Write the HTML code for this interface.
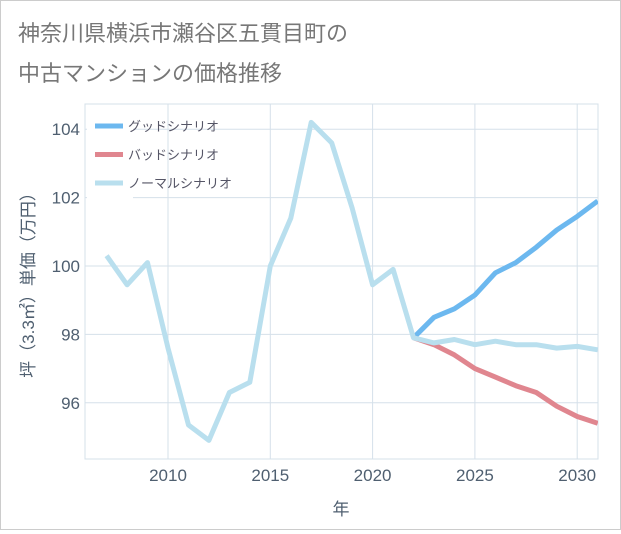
<!DOCTYPE html>
<html><head><meta charset="utf-8"><style>
body{margin:0;background:#fff;font-family:"Liberation Sans","Noto Sans CJK JP",sans-serif;}
#wrap{position:relative;width:619px;height:528px;border:1px solid #ccc;background:#fff;}
</style></head><body>
<div id="wrap">
<svg id="chart" width="619" height="528" xmlns="http://www.w3.org/2000/svg">
<text x="17" y="40" font-size="22" fill="#777" font-family="Liberation Sans,Noto Sans CJK JP,sans-serif">神奈川県横浜市瀬谷区五貫目町の</text>
<text x="17" y="80" font-size="22" fill="#777" font-family="Liberation Sans,Noto Sans CJK JP,sans-serif">中古マンションの価格推移</text>
<g id="grid"></g><g id="series"></g><g id="axes"></g><g id="legend"></g>
</svg>
</div>
<script>
const normalYears=[2007,2008,2009,2010,2011,2012,2013,2014,2015,2016,2017,2018,2019,2020,2021,2022,2023,2024,2025,2026,2027,2028,2029,2030,2031];
const normalValues=[100.3,99.45,100.1,97.6,95.35,94.9,96.3,96.6,100,101.4,104.2,103.6,101.7,99.45,99.9,97.9,97.75,97.85,97.7,97.8,97.7,97.7,97.6,97.65,97.55];
const scenarioYears=[2022,2023,2024,2025,2026,2027,2028,2029,2030,2031];
const goodValues=[97.9,98.5,98.75,99.15,99.8,100.1,100.55,101.05,101.45,101.9];
const badValues=[97.9,97.7,97.4,97.0,96.75,96.5,96.3,95.9,95.6,95.4];
const xTicks=[2010,2015,2020,2025,2030];
const yTicks=[96,98,100,102,104];
const L=84,R=597,T=103,B=458;
const x=y=>167+(y-2010)*20.46;
const yS=v=>265-(v-100)*34.2;
const NS="http://www.w3.org/2000/svg";
function mk(tag,attrs,parent){const e=document.createElementNS(NS,tag);for(const k in attrs)e.setAttribute(k,attrs[k]);parent.appendChild(e);return e;}
const grid=document.getElementById('grid'),axes=document.getElementById('axes'),ser=document.getElementById('series'),leg=document.getElementById('legend');
mk('rect',{x:L,y:T,width:R-L,height:B-T,fill:'none',stroke:'#d5e0ea'},grid);
xTicks.forEach(t=>{
 const l=mk('line',{x1:x(t),x2:x(t),y1:T,y2:B,stroke:'#d5e0ea'},grid);
 
 
 const tx=mk('text',{x:x(t),y:B+22,'text-anchor':'middle','font-size':17,fill:'#4f5f70'},axes);
 tx.textContent=t;
 
 
});
yTicks.forEach(t=>{
 const l=mk('line',{x1:L,x2:R,y1:yS(t),y2:yS(t),stroke:'#d5e0ea'},grid);
 
 
 const tx=mk('text',{x:L-5,y:yS(t)+6,'text-anchor':'end','font-size':17,fill:'#4f5f70'},axes);
 tx.textContent=t;
 
 
});
const xt=mk('text',{x:340,y:514,'text-anchor':'middle','font-size':17,fill:'#4f5f70'},axes);
xt.textContent='年';


const yt=mk('text',{x:0,y:0,'text-anchor':'middle','font-size':17,fill:'#4f5f70',transform:'translate(33,280) rotate(-90)'},axes);
yt.textContent='坪（3.3㎡）単価（万円）';


function line(xs,vs,color,name){
 const d=xs.map((a,i)=>(i?'L':'M')+x(a).toFixed(1)+','+yS(vs[i]).toFixed(1)).join('');
 const p=mk('path',{d:d,fill:'none',stroke:color,'stroke-width':5,'stroke-linejoin':'round'},ser);
 
 
}
const cp=mk('clipPath',{id:'clip'},ser);mk('rect',{x:L,y:T,width:R-L,height:B-T},cp);
ser.setAttribute('clip-path','url(#clip)');
line(scenarioYears,goodValues,'#6cb8ef','good-scenario-line');
line(scenarioYears,badValues,'#e0868f','bad-scenario-line');
line(normalYears,normalValues,'#b9dfee','normal-scenario-line');
mk('rect',{x:86,y:110,width:46,height:92,fill:'#fff'},leg);
[['グッドシナリオ','#6cb8ef','legend-good'],['バッドシナリオ','#e0868f','legend-bad'],['ノーマルシナリオ','#b9dfee','legend-normal']].forEach((e,i)=>{
 const yy=125+i*28.5;
 const g=mk('g',{},leg);
 
 
 mk('rect',{x:94,y:yy-2.5,width:28,height:5,fill:e[1]},g);
 const t=mk('text',{x:127,y:yy+5,'font-size':13,fill:'#556'},g);
 t.textContent=e[0];
});
</script>
</body></html>
